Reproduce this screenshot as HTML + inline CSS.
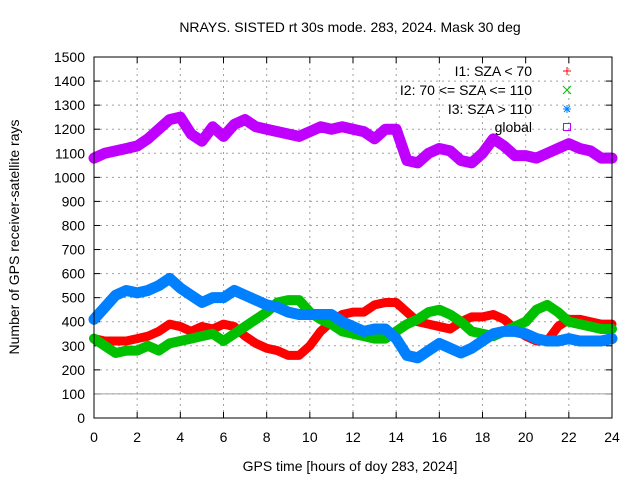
<!DOCTYPE html>
<html><head><meta charset="utf-8"><style>
body{margin:0;background:#fff}
svg{font-family:"Liberation Sans",sans-serif;font-size:14px}
</style></head><body>
<svg id="c" width="640" height="480">
</svg>
<script>
const hours=[0,0.5,1,1.5,2,2.5,3,3.5,4,4.5,5,5.5,6,6.5,7,7.5,8,8.5,9,9.5,10,10.5,11,11.5,12,12.5,13,13.5,14,14.5,15,15.5,16,16.5,17,17.5,18,18.5,19,19.5,20,20.5,21,21.5,22,22.5,23,23.5,24];
const globalVals=[1080,1100,1110,1120,1130,1160,1200,1240,1250,1180,1150,1210,1170,1220,1240,1210,1200,1190,1180,1170,1190,1210,1200,1210,1200,1190,1160,1200,1200,1070,1060,1100,1120,1110,1070,1060,1100,1160,1130,1090,1090,1080,1100,1120,1140,1120,1110,1080,1080];
const i1Vals=[330,320,320,320,330,340,360,390,380,360,380,370,390,380,340,310,290,280,260,260,300,360,400,430,440,440,470,480,480,440,400,390,380,370,400,420,420,430,410,370,340,320,320,380,410,410,400,390,390];
const i2Vals=[330,300,270,280,280,300,280,310,320,330,340,350,320,350,380,410,440,480,490,490,440,410,390,360,350,340,330,330,360,390,410,440,450,430,400,360,350,340,360,380,400,450,470,440,400,390,380,370,370];
const i3Vals=[410,460,510,530,520,530,550,580,540,510,480,500,500,530,510,490,470,460,440,430,430,430,430,400,380,360,370,370,330,260,250,280,310,290,270,290,320,350,360,360,350,330,320,320,330,320,320,320,330];
const yTicks=[0,100,200,300,400,500,600,700,800,900,1000,1100,1200,1300,1400,1500];
const xTicks=[0,2,4,6,8,10,12,14,16,18,20,22,24];
const X0=94,X1=612,Y0=418,Y1=57;
const sx=h=>X0+(X1-X0)*h/24, sy=v=>Y0-(Y0-Y1)*v/1500;
const svg=document.getElementById('c'),NS='http://www.w3.org/2000/svg';
function mk(t,a,txt){const e=document.createElementNS(NS,t);for(const k in a)e.setAttribute(k,a[k]);if(txt!==undefined)e.textContent=txt;svg.appendChild(e);return e;}
mk('rect',{x:0,y:0,width:640,height:480,fill:'#fff'});
yTicks.forEach(v=>{const y=sy(v);
 if(v>0&&v<1500){const g=mk('line',{x1:X0,x2:X1,y1:y,y2:y,stroke:'#a0a0a0','stroke-dasharray':'2,4','stroke-width':1});
 
 }
 const t=mk('text',{x:X0-9,y:y+5,'text-anchor':'end',fill:'#000'},v);
 
 
 mk('line',{x1:X0,x2:X0+6,y1:y,y2:y,stroke:'#000'});mk('line',{x1:X1,x2:X1-6,y1:y,y2:y,stroke:'#000'});});
xTicks.forEach(h=>{const x=sx(h);
 if(h>0&&h<24){const g=mk('line',{x1:x,x2:x,y1:Y0,y2:Y1,stroke:'#a0a0a0','stroke-dasharray':'2,4'});
 
 }
 const t=mk('text',{x:x,y:Y0+24,'text-anchor':'middle'},h);
 
 
 mk('line',{x1:x,x2:x,y1:Y0,y2:Y0-6,stroke:'#000'});mk('line',{x1:x,x2:x,y1:Y1,y2:Y1+6,stroke:'#000'});});
const hl=mk('line',{x1:X0,x2:X1,y1:sy(100),y2:sy(100),stroke:'#a0a0a0'});


function series(vals,color,w,name){
 const pts=hours.map((h,i)=>sx(h)+','+sy(vals[i])).join(' ');
 const p=mk('polyline',{points:pts,fill:'none',stroke:color,'stroke-width':w,'stroke-linejoin':'round','stroke-linecap':'round'});
 
 
}
series(globalVals,'#c000ff',11,'series-global');
series(i1Vals,'#ff0000',9,'series-i1');
series(i2Vals,'#00c000',10,'series-i2');
series(i3Vals,'#0080ff',11,'series-i3');
mk('rect',{x:X0,y:Y1,width:X1-X0,height:Y0-Y1,fill:'none',stroke:'#000'});
</script>
<svg width="640" height="480" style="position:absolute;left:0;top:0">
<text x="350" y="32" text-anchor="middle" font-family="Liberation Sans" font-size="14">NRAYS. SISTED rt 30s mode. 283, 2024. Mask 30 deg</text>
<text x="350" y="471" text-anchor="middle" font-family="Liberation Sans" font-size="14">GPS time [hours of doy 283, 2024]</text>
<text x="19" y="237" text-anchor="middle" transform="rotate(-90 19 237)" font-family="Liberation Sans" font-size="14">Number of GPS receiver-satellite rays</text>
<g font-family="Liberation Sans" font-size="14" text-anchor="end">
<g><text x="532" y="76">I1: SZA &lt; 70</text><path d="M563 71h8M567 67v8" stroke="#f00"/></g>
<g><text x="532" y="95">I2: 70 &lt;= SZA &lt;= 110</text><path d="M563 86l8 8M571 86l-8 8" stroke="#00c000"/></g>
<g><text x="532" y="114">I3: SZA &gt; 110</text><path d="M563 109h8M567 105v8M564 106l6 6M570 106l-6 6" stroke="#0080ff"/></g>
<g><text x="532" y="132">global</text><rect x="563.5" y="123.5" width="7" height="7" fill="none" stroke="#c000ff"/></g>
</g>
</svg>
</body></html>
